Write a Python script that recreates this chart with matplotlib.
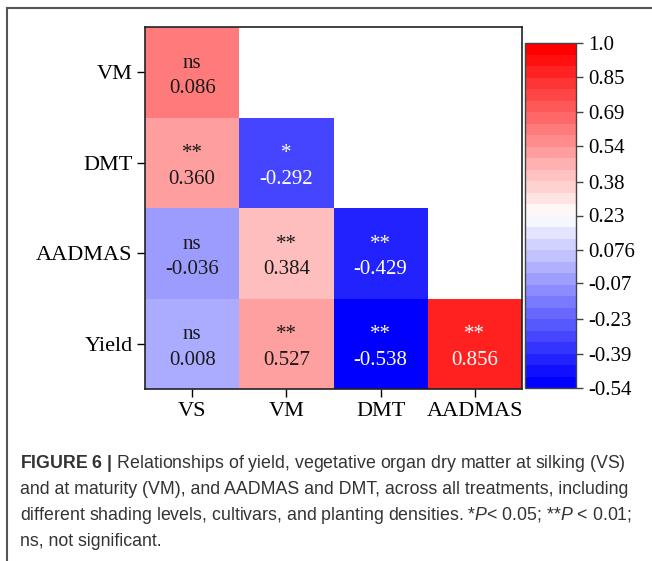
import numpy as np
import matplotlib
matplotlib.use("Agg")
import matplotlib.pyplot as plt
from matplotlib.colors import ListedColormap, LinearSegmentedColormap, Normalize
from matplotlib.patches import Rectangle
from matplotlib.lines import Line2D
import matplotlib.colorbar as mcolorbar

# correlation data (lower triangle)
rows = ["VM", "DMT", "AADMAS", "Yield"]
cols = ["VS", "VM", "DMT", "AADMAS"]
r_values = [
    [0.086],
    [0.360, -0.292],
    [-0.036, 0.384, -0.429],
    [0.008, 0.527, -0.538, 0.856],
]
signif = [
    ["ns"],
    ["**", "*"],
    ["ns", "**", "**"],
    ["ns", "**", "**", "**"],
]
cbar_ticks = [1.0, 0.85, 0.69, 0.54, 0.38, 0.23, 0.076, -0.07, -0.23, -0.39, -0.54]
cbar_labels = ["1.0", "0.85", "0.69", "0.54", "0.38", "0.23", "0.076", "-0.07", "-0.23", "-0.39", "-0.54"]

# fill colours of each cell
cell_colors = [
    ["#ff7b7b"],
    ["#ff9e9e", "#4545ff"],
    ["#9c9cff", "#ffbebe", "#2222ff"],
    ["#ababff", "#ffa0a0", "#0000ff", "#ff2020"],
]
light_text = [
    [False],
    [False, True],
    [False, False, True],
    [False, False, True, True],
]

plt.rcParams["font.family"] = ["Liberation Serif", "DejaVu Serif"]
plt.rcParams["mathtext.fontset"] = "custom"
plt.rcParams["mathtext.rm"] = "Liberation Sans"
plt.rcParams["mathtext.it"] = "Liberation Sans:italic"
plt.rcParams["mathtext.bf"] = "Liberation Sans:bold"

W, H = 652, 561
fig = plt.figure(figsize=(W / 100, H / 100), dpi=100)

# heatmap
ax = fig.add_axes([145 / W, 1 - 389 / H, 377 / W, 362 / H])
ax.set_xlim(0, 4)
ax.set_ylim(4, 0)
for i, row in enumerate(r_values):
    for j, v in enumerate(row):
        ax.add_patch(Rectangle((j, i), 1, 1, facecolor=cell_colors[i][j], edgecolor="none"))
        tc = "white" if light_text[i][j] else "#1a1a1a"
        ax.text(j + 0.5, i + 0.40, signif[i][j], ha="center", va="center", fontsize=15, color=tc)
        ax.text(j + 0.5, i + 0.68, f"{v:.3f}", ha="center", va="center", fontsize=15, color=tc)

ax.set_xticks(np.arange(4) + 0.5)
ax.set_xticklabels(cols, fontsize=16)
ax.set_yticks(np.arange(4) + 0.5)
ax.set_yticklabels(rows, fontsize=16)
ax.tick_params(length=6, width=1, pad=3)
for s in ax.spines.values():
    s.set_linewidth(1.2)
    s.set_color("#222222")

# colorbar
cmap = LinearSegmentedColormap.from_list("bwr_c", ["#0000ff", "#ffffff", "#ff0000"])
cmap = ListedColormap(cmap(np.linspace(0, 1, 30)))
cax = fig.add_axes([525 / W, 1 - 388 / H, 51 / W, 345 / H])
cb = mcolorbar.ColorbarBase(cax, cmap=cmap, norm=Normalize(-0.54, 1.0), orientation="vertical")
cb.set_ticks(cbar_ticks)
cb.set_ticklabels(cbar_labels)
cax.tick_params(labelsize=15, length=5, width=1, pad=4, color="#444444")
cb.outline.set_edgecolor("#444444")
cb.outline.set_linewidth(1)

# outer frame
fig.add_artist(Line2D([7 / W, 1], [1 - 8 / H, 1 - 8 / H], transform=fig.transFigure, color="#555555", lw=1.5))
fig.add_artist(Line2D([7 / W, 7 / W], [0, 1 - 8 / H], transform=fig.transFigure, color="#555555", lw=1.5))

# caption
caption = [
    r"$\mathbf{FIGURE\ 6\ |}$ Relationships of yield, vegetative organ dry matter at silking (VS)",
    "and at maturity (VM), and AADMAS and DMT, across all treatments, including",
    r"different shading levels, cultivars, and planting densities. *$P$< 0.05; **$P$ < 0.01;",
    "ns, not significant.",
]
for k, line in enumerate(caption):
    fig.text(20 / W, 1 - (464 + 26 * k) / H, line, ha="left", va="center",
             fontsize=12.8, color="#333333",
             family=["Liberation Sans", "DejaVu Sans"])

fig.savefig("out.png", dpi=100)
